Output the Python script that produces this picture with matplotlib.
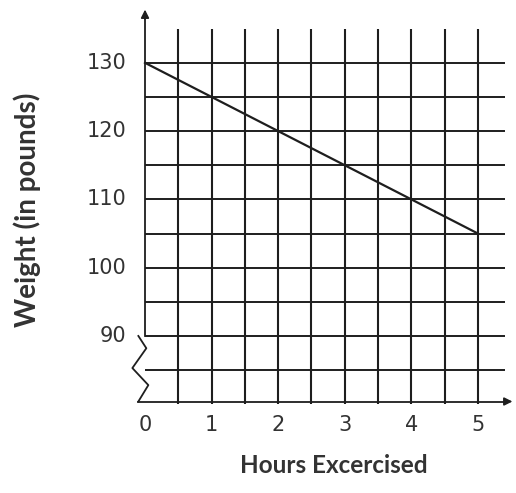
import numpy as np
import matplotlib.pyplot as plt

# data
hours = [0, 5]
weight = [130, 105]
x_ticks = [0, 1, 2, 3, 4, 5]
y_ticks = [90, 100, 110, 120, 130]
x_grid = [0.5, 1.0, 1.5, 2.0, 2.5, 3.0, 3.5, 4.0, 4.5, 5.0]
y_grid = [85, 90, 95, 100, 105, 110, 115, 120, 125, 130]
# axis break zigzag between 80 and 90
brk_x = [-0.1, 0.02, -0.19, 0.05, -0.1]
brk_y = [90, 88.2, 85.3, 82.8, 80.4]

ink = '#1e1e1e'
fig = plt.figure(figsize=(5.16, 4.93), dpi=100)
ax = fig.add_axes([0, 0, 1, 1])
ax.set_xlim(-2.178, 5.572)
ax.set_ylim(67.0, 139.2)
ax.axis('off')

# grid
for gx in x_grid:
    ax.plot([gx, gx], [80, 135], color=ink, lw=1.5, solid_capstyle='butt')
for gy in y_grid:
    ax.plot([0, 5.4], [gy, gy], color=ink, lw=1.4, solid_capstyle='butt')

# axes with arrows
ax.plot([0, 0], [90, 136.5], color=ink, lw=1.3)
ax.annotate('', xy=(0, 138.2), xytext=(0, 136),
            arrowprops=dict(arrowstyle='-|>', color=ink, lw=1.2, mutation_scale=12))
ax.plot(brk_x, brk_y, color=ink, lw=1.3)
ax.plot([-0.1, 5.4], [80.4, 80.4], color=ink, lw=1.3)
ax.annotate('', xy=(5.56, 80.4), xytext=(5.35, 80.4),
            arrowprops=dict(arrowstyle='-|>', color=ink, lw=1.2, mutation_scale=12))

# the weight line
ax.plot(hours, weight, color=ink, lw=1.6)

# tick labels
for t in x_ticks:
    ax.text(t, 76.9, str(t), ha='center', va='center', fontsize=15,
            family='DejaVu Sans', color='#333333')
for t in y_ticks:
    ax.text(-0.28, t, str(t), ha='right', va='center', fontsize=15,
            family='DejaVu Sans', color='#333333')

# axis titles
ax.text(-1.77, 108.5, 'Weight (in pounds)', rotation=90, ha='center', va='center',
        fontsize=20, fontweight='bold', family='Lato', color='#333333')
ax.text(2.84, 71.1, 'Hours Excercised', ha='center', va='center',
        fontsize=17.5, fontweight='bold', family='Lato', color='#333333')

fig.savefig('out.png', dpi=100)
